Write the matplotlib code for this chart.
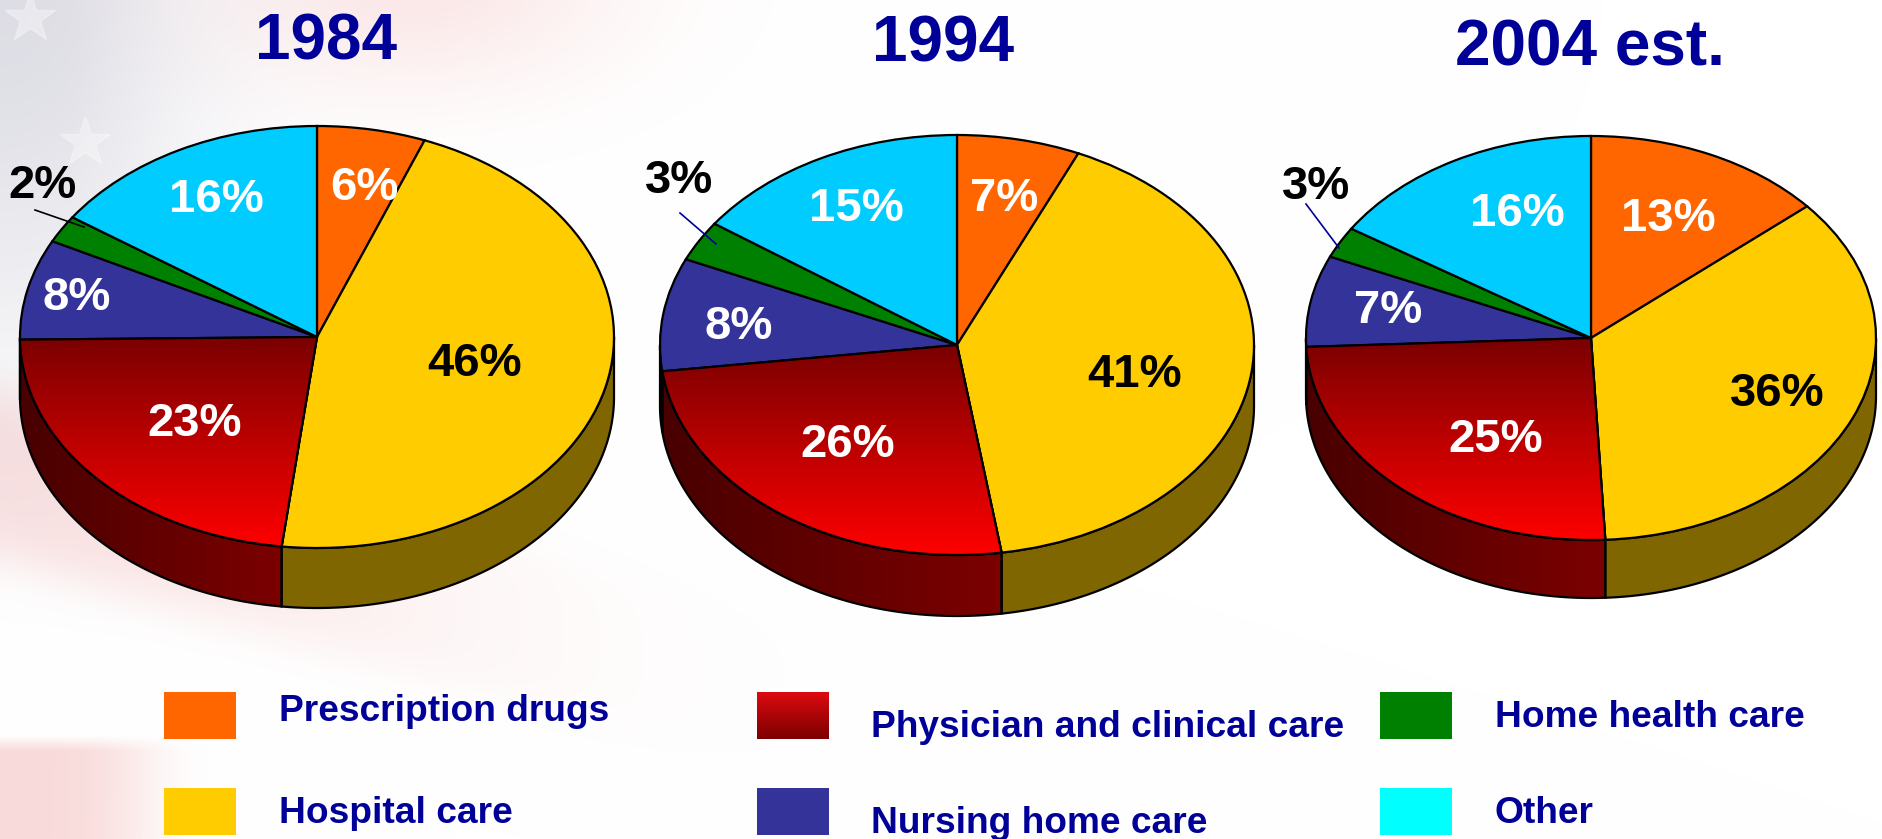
from matplotlib import pyplot as plt
from matplotlib.colors import LinearSegmentedColormap
from matplotlib.patches import PathPatch, Polygon, Rectangle
import numpy as np

W, H = 1883, 839

years = ["1984", "1994", "2004 est."]
categories = ["Prescription drugs", "Hospital care", "Physician and clinical care",
              "Nursing home care", "Home health care", "Other"]
# printed labels
labels_1984 = ["6%", "46%", "23%", "8%", "2%", "16%"]
labels_1994 = ["7%", "41%", "26%", "8%", "3%", "15%"]
labels_2004 = ["13%", "36%", "25%", "7%", "3%", "16%"]
labels = [labels_1984, labels_1994, labels_2004]
# slice sizes, the printed ones are rounded
shares_1984 = [5.9, 46.0, 22.9, 7.7, 2.1, 15.4]
shares_1994 = [6.7, 40.9, 25.4, 8.7, 3.1, 15.2]
shares_2004 = [13.7, 35.5, 25.1, 7.3, 2.5, 15.9]
shares = [shares_1984, shares_1994, shares_2004]

pie_colors = ["#ff6600", "#ffcc00", "#8b0000", "#333399", "#008000", "#00ccff"]
side_colors = ["#803300", "#806600", "#700000", "#1a1a4d", "#004000", "#006680"]
label_colors = ["white", "black", "white", "white", "black", "white"]
swatch_colors = ["#ff6600", "#ffcc00", "#8b0000", "#333399", "#008000", "#00ffff"]
navy = "#000099"

# centre x, centre y, half width, half height, depth (pixels)
pie_boxes = [(317, 337, 297, 211, 60), (957, 345, 297, 210, 61), (1591, 338, 285, 202, 58)]
title_pos = [(326, 43), (943, 44), (1590, 49)]
label_pos = [
    [(364, 188), (475, 364), (195, 424), (77, 298), (43, 186), (216, 200)],
    [(1004, 199), (1135, 375), (848, 445), (739, 327), (679, 181), (856, 209)],
    [(1668, 219), (1777, 394), (1496, 440), (1388, 311), (1316, 187), (1517, 214)],
]
leaders = [((35, 210), (84, 227), "black"), ((680, 213), (716, 244), navy), ((1306, 204), (1339, 248), navy)]
swatch_pos = [(164.5, 692), (164.5, 788), (757, 692), (757, 788), (1380, 692), (1380, 788)]
legend_text_pos = [(279, 721), (279, 823), (871, 737), (871, 833), (1495, 727), (1495, 823)]

plt.rcParams['font.family'] = ['Liberation Sans', 'DejaVu Sans']

red_grad = LinearSegmentedColormap.from_list("red_grad", ["#ff0000", "#7a0000"])
side_grad = LinearSegmentedColormap.from_list("side_grad", ["#480000", "#7c0000"])


def background(ax):
    # washed out flag behind the slide: grey canton, two faint red stripes
    x, y = np.meshgrid(np.arange(W), np.arange(H))
    grey = np.exp(-((x / 230.0) ** 2 + (y / 330.0) ** 2)) * np.clip(1.2 - x / 380.0, 0, 1)
    band1 = np.exp(-(((y - 475 - x * 0.28) / 90.0) ** 4)) * np.exp(-((x / 430.0) ** 2))
    band2 = np.clip((y - 735) / 15.0, 0, 1) * np.exp(-((x / 150.0) ** 4))
    top_pink = 0.35 * np.exp(-(((x - 420) / 200.0) ** 2 + ((y + 20) / 110.0) ** 2))
    pink = 0.42 * band1 + 0.55 * band2 + top_pink
    img = np.ones((H, W, 3))
    img[..., 0] -= 0.13 * grey + 0.04 * pink
    img[..., 1] -= 0.13 * grey + 0.26 * pink
    img[..., 2] -= 0.10 * grey + 0.26 * pink
    ax.imshow(np.clip(img, 0, 1), extent=(0, W, H, 0), aspect="auto", zorder=0)
    ax.plot([30, 85], [18, 142], ls="none", marker="*", ms=38, color="white", alpha=0.35, zorder=1)


def draw_pie(fig, values, box):
    cx, cy, a, b, depth = box
    # axes spans one ellipse plus its rim, unit circle stretched to the ellipse
    ax = fig.add_axes([(cx - a) / W, 1 - (cy + b + depth) / H, 2 * a / W, (2 * b + depth) / H])
    wedges, _ = ax.pie(values, colors=pie_colors, startangle=90, counterclock=False, radius=1,
                       normalize=True, wedgeprops=dict(edgecolor="black", linewidth=1.6, zorder=3))
    d = depth / b
    for i, w in enumerate(wedges):
        w.set_clip_on(False)
        # rim only shows on the lower half of the ellipse
        t1, t2 = max(w.theta1, -180), min(w.theta2, 0)
        if t2 <= t1:
            continue
        t = np.radians(np.linspace(t1, t2, 200))
        xs, ys = np.cos(t), np.sin(t)
        pts = np.r_[np.c_[xs, ys], np.c_[xs[::-1], ys[::-1] - d]]
        rim = Polygon(pts, closed=True, facecolor=side_colors[i], edgecolor="none", zorder=2, clip_on=False)
        ax.add_patch(rim)
        if i == 2:
            im = ax.imshow(np.linspace(0, 1, 256)[None, :], cmap=side_grad, extent=(-1, xs.max(), -1 - d, 0),
                           aspect="auto", zorder=2.1)
            im.set_clip_path(rim)
        ax.add_patch(Polygon(pts, closed=True, fill=False, edgecolor="black", linewidth=1.6, zorder=2.2,
                             clip_on=False))
    grad = ax.imshow(np.linspace(0, 1, 256)[:, None], cmap=red_grad, extent=(-1, 1, -1, 0), origin="lower",
                     aspect="auto", zorder=3.1)
    grad.set_clip_path(wedges[2])
    ax.add_patch(PathPatch(wedges[2].get_path(), fill=False, edgecolor="black", linewidth=1.6,
                           zorder=3.2, clip_on=False))
    ax.set_aspect("auto")
    ax.set_xlim(-1, 1)
    ax.set_ylim(-1 - d, 1)
    ax.patch.set_alpha(0)
    ax.set_axis_off()


fig = plt.figure(figsize=(W / 100, H / 100), dpi=100)

bg = fig.add_axes([0, 0, 1, 1], zorder=0)
background(bg)
bg.set_xlim(0, W)
bg.set_ylim(H, 0)
bg.set_axis_off()

for values, box in zip(shares, pie_boxes):
    draw_pie(fig, values, box)

top = fig.add_axes([0, 0, 1, 1], zorder=10)
top.patch.set_alpha(0)
top.set_axis_off()

for year, (x, y) in zip(years, title_pos):
    top.text(x, y, year, color=navy, fontsize=46, fontweight="bold", ha="center", va="center")

for texts, positions in zip(labels, label_pos):
    for s, (x, y), c in zip(texts, positions, label_colors):
        top.text(x, y, s, color=c, fontsize=34, fontweight="bold", ha="center", va="center")

for (p0, p1, c) in leaders:
    top.plot([p0[0], p1[0]], [p0[1], p1[1]], color=c, lw=1.2)

for i, (name, (sx, sy), (tx, ty)) in enumerate(zip(categories, swatch_pos, legend_text_pos)):
    if i == 2:
        g = LinearSegmentedColormap.from_list("sw", ["#dd0a10", "#7c0000"])
        top.imshow(np.linspace(0, 1, 64)[:, None], cmap=g, extent=(sx, sx + 72, sy + 47, sy), aspect="auto")
    else:
        top.add_patch(Rectangle((sx, sy), 72, 47, facecolor=swatch_colors[i], edgecolor="none"))
    top.text(tx, ty, name, color=navy, fontsize=26.7, fontweight="bold", ha="left", va="baseline")
top.set_xlim(0, W)
top.set_ylim(H, 0)

plt.savefig("out.png", dpi=100)
